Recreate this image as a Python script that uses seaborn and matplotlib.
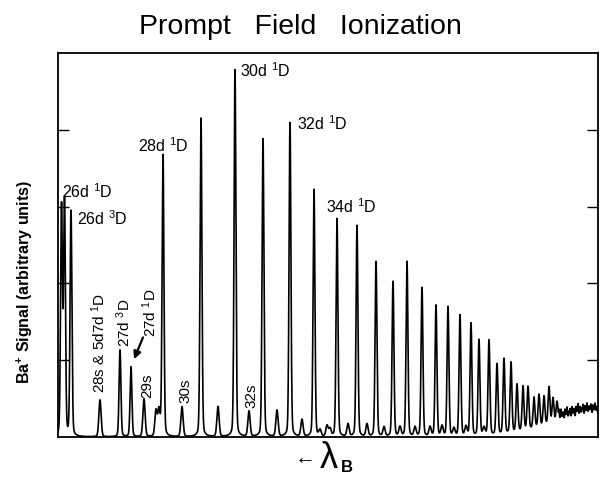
import numpy as np
import pandas as pd
import matplotlib
matplotlib.use("Agg")
import matplotlib.pyplot as plt
import seaborn as sns

# ---- data (x: wavelength, arbitrary; y: Ba+ signal, arbitrary units) ----
strong_centers = [3.5, 6.5, 13, 62, 73, 105, 143, 177, 205, 232, 256, 279, 299, 318,
                  335, 349, 364, 378, 390, 402, 413, 421, 431, 439, 446, 453]
strong_heights = [2.98, 3.05, 2.93, 1.13, 0.91, 3.67, 4.15, 4.78, 3.88, 4.09, 3.22,
                  2.84, 2.75, 2.28, 2.02, 2.28, 1.94, 1.71, 1.69, 1.58, 1.47, 1.25,
                  1.24, 0.92, 0.98, 0.92]
weak_centers = [42, 86, 98, 101, 124, 160, 191, 219, 244, 262, 269, 272, 290, 309,
                326, 342, 357, 372, 384, 396, 408, 426]
weak_heights = [0.48, 0.49, 0.33, 0.33, 0.39, 0.39, 0.33, 0.34, 0.22, 0.08, 0.14,
                0.10, 0.16, 0.16, 0.12, 0.12, 0.12, 0.12, 0.13, 0.10, 0.12, 0.10]
tail_centers = [459, 465, 470, 476, 481, 486, 491, 495, 499]
tail_heights = [0.62, 0.58, 0.56, 0.40, 0.42, 0.38, 0.48, 0.32, 0.26]
noise_centers = [501, 502, 503, 504, 505, 506, 507, 508, 509, 510, 511, 512, 513,
                 514, 515, 516, 517, 518, 519, 520, 521, 522, 523, 524, 525, 526,
                 527, 528, 529, 530, 531, 532, 533, 534, 535, 536, 537, 538, 539]
noise_heights = [0.12, 0.03, 0.14, 0.05, 0.10, 0.02, 0.13, 0.06, 0.15, 0.03, 0.09,
                 0.12, 0.02, 0.14, 0.06, 0.11, 0.01, 0.13, 0.07, 0.16, 0.03, 0.12,
                 0.05, 0.10, 0.14, 0.02, 0.12, 0.06, 0.15, 0.04, 0.11, 0.08, 0.13,
                 0.02, 0.12, 0.06, 0.14, 0.05, 0.10]
background_center = 540
background_height = 0.30
background_width = 45

x = np.linspace(0, 540, 10801)
y = np.zeros_like(x)


def add_peaks(yy, centers, heights, sigma, gamma, frac):
    for c, h in zip(centers, heights):
        d = x - c
        yy += h * ((1 - frac) * np.exp(-d ** 2 / (2 * sigma ** 2))
                   + frac / (1 + (d / gamma) ** 2))
    return yy


y = add_peaks(y, strong_centers, strong_heights, 0.9, 1.4, 0.12)
y = add_peaks(y, weak_centers, weak_heights, 1.1, 1.5, 0.15)
y = add_peaks(y, tail_centers, tail_heights, 0.9, 1.3, 0.15)
y = add_peaks(y, noise_centers, noise_heights, 0.35, 0.5, 0.0)
y += background_height * np.exp(-((x - background_center) ** 2) / (2 * background_width ** 2))
df = pd.DataFrame({"wavelength": x, "signal": y})

sns.set_style("white")
plt.rcParams["font.family"] = ["Liberation Sans", "DejaVu Sans"]
plt.rcParams["text.color"] = "black"
plt.rcParams["mathtext.fontset"] = "custom"
plt.rcParams["mathtext.rm"] = "Liberation Sans"
plt.rcParams["mathtext.it"] = "Liberation Sans:italic"
plt.rcParams["mathtext.bf"] = "Liberation Sans:bold"
plt.rcParams["mathtext.default"] = "regular"

fig = plt.figure(figsize=(6.02, 4.82), dpi=100)
ax = fig.add_axes([58 / 602, 1 - 437 / 482, 540 / 602, 384 / 482])
sns.lineplot(data=df, x="wavelength", y="signal", ax=ax, color="black",
             linewidth=1.2, estimator=None, sort=False)
ax.set_xlim(0, 540)
ax.set_ylim(0, 5.0)
ax.set_xticks([])
ax.set_yticks([1, 2, 3, 4])
ax.set_yticklabels([])
ax.tick_params(axis="y", direction="in", length=8, width=1.0, left=True, right=True,
               color="black")
for s in ax.spines.values():
    s.set_visible(True)
    s.set_color("black")
    s.set_linewidth(1.3)
ax.set_xlabel("")
ax.set_ylabel("")

fs = 11.5
horiz = [("26d $^{1}$D", 4, 3.11), ("26d $^{3}$D", 19, 2.76), ("28d $^{1}$D", 80, 3.71),
         ("30d $^{1}$D", 182, 4.69), ("32d $^{1}$D", 239, 4.00), ("34d $^{1}$D", 268, 2.92)]
for t, xx, yy in horiz:
    ax.text(xx, yy, t, fontsize=fs, ha="left", va="baseline")
vert = [("28s & 5d7d $^{1}$D", 40.5, 0.57), ("27d $^{3}$D", 65.5, 1.17),
        ("27d $^{1}$D", 92, 1.30), ("29s", 89, 0.51), ("30s", 127, 0.44), ("32s", 193, 0.38)]
for t, xx, yy in vert:
    ax.text(xx, yy, t, fontsize=11, rotation=90, ha="center", va="bottom")
ax.annotate("", xy=(75, 0.98), xytext=(86, 1.33),
            arrowprops=dict(arrowstyle="-|>", color="black", lw=1.6, mutation_scale=11))

fig.text(300 / 602, 1 - 27 / 482, "Prompt   Field   Ionization", fontsize=20.5,
         ha="center", va="center")
fig.text(25 / 602, 1 - 282 / 482, "Ba$^{\\mathbf{+}}$ Signal (arbitrary units)",
         fontsize=11.5, fontweight="bold", rotation=90, ha="center", va="center")
fig.text(305 / 602, 1 - 459 / 482, "\u2190", fontsize=15, fontweight="bold",
         ha="center", va="center")
fig.text(329 / 602, 1 - 458 / 482, "\u03bb", fontsize=26, ha="center", va="center")
fig.text(347 / 602, 1 - 468 / 482, "B", fontsize=12, fontweight="bold",
         ha="center", va="center")

fig.savefig("out.png", dpi=100)
